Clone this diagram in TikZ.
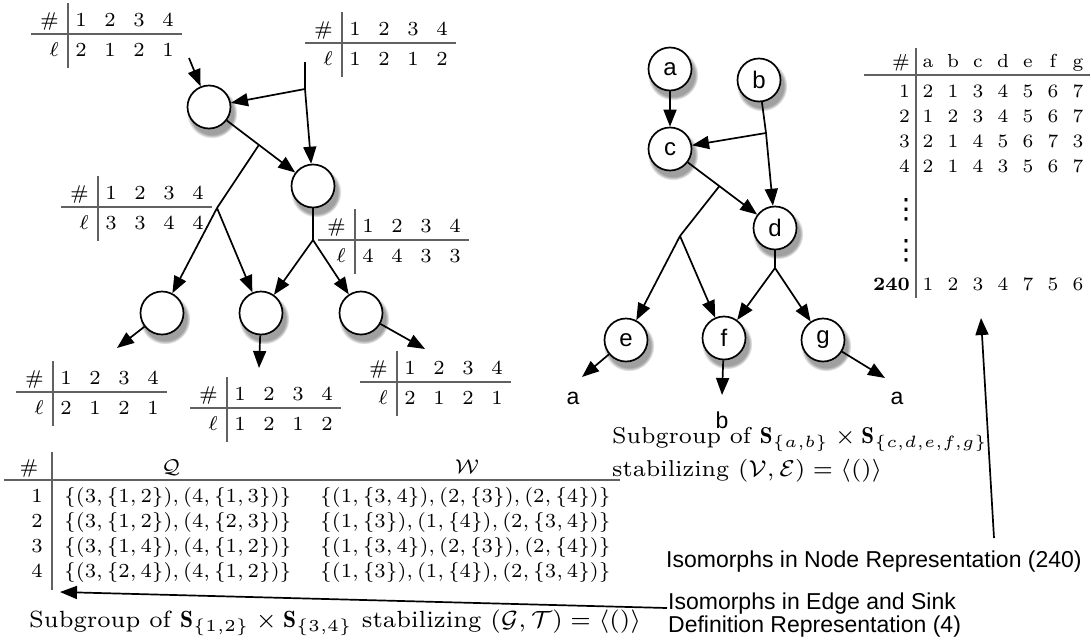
\RequirePackage{fix-cm}
\documentclass[tikz,border=0pt]{standalone}
\usepackage{amsmath,amssymb}
\usepackage{fontspec}
\newfontfamily\hv{Liberation Sans}
\newfontfamily\dv{DejaVu Sans}
\usetikzlibrary{arrows.meta,shadows,calc}
% small design size, scaled up (as in the reference)
\newcommand{\sz}[2]{\scalebox{#1}{\fontsize{7}{8.5}\selectfont #2}}
\newcommand{\tc}[1]{\sz{2.85}{#1}}
\newcommand{\rc}[1]{\sz{2.7}{#1}}
\newcommand{\qc}[1]{\sz{2.85}{#1}}
\newcommand{\cc}[1]{\sz{3.35}{#1}}
\newcommand{\ccr}[1]{\sz{3.28}{#1}}
\tikzset{
 vtx/.style={circle,draw=black,line width=1.7pt,fill=white,minimum size=43pt,inner sep=0pt,
   circular drop shadow={shadow xshift=2.5pt,shadow yshift=-5pt,shadow scale=1.18,opacity=0.75},
   font=\hv\fontsize{24}{28}\selectfont},
 con/.style={line width=1.7pt},
 arr/.style={con,-{Triangle[length=17pt,width=13pt]}},
 tabline/.style={line width=1.2pt,draw=black!62},
 cell/.style={inner sep=0pt},
 vdt/.style={inner sep=0pt,font=\dv\fontsize{28}{30}\selectfont},
 lbl/.style={inner sep=0pt,font=\hv\fontsize{23}{26}\selectfont},
}
\newcommand{\ltab}[7]{%
\begin{scope}[shift={(#2,#3)}]
\draw[tabline] (-37,0) -- (114,0);
\draw[tabline] (0,-31) -- (0,34);
\node[cell,anchor=base east] (#1h) at (-9,-8) {\tc{$\#$}};
\node[cell,anchor=base east] (#1l) at (-9,22) {\tc{$\ell$}};
\node[cell,anchor=base] (#1t1) at (13,-8) {\tc{1}};
\node[cell,anchor=base] (#1t2) at (42,-8) {\tc{2}};
\node[cell,anchor=base] (#1t3) at (71,-8) {\tc{3}};
\node[cell,anchor=base] (#1t4) at (100,-8) {\tc{4}};
\node[cell,anchor=base] (#1b1) at (13,22) {\tc{#4}};
\node[cell,anchor=base] (#1b2) at (42,22) {\tc{#5}};
\node[cell,anchor=base] (#1b3) at (71,22) {\tc{#6}};
\node[cell,anchor=base] (#1b4) at (100,22) {\tc{#7}};
\end{scope}}
\begin{document}
\begin{tikzpicture}[x=1pt,y=-1pt]
\useasboundingbox (0,0) rectangle (1091,643);
% ---------- left graph ----------
\node[vtx] (N1) at (209,107) {};
\node[vtx] (N2) at (313,186) {};
\node[vtx] (N3) at (162,313) {};
\node[vtx] (N4) at (261,313) {};
\node[vtx] (N5) at (361,313) {};
\coordinate (s1) at (189,58);
\coordinate (j1) at (305,62);
\coordinate (j2) at (305,89);
\coordinate (b1) at ($(N1)!0.48!(N2)$);
\coordinate (j3) at (217,208);
\coordinate (j4) at (313,240);
\coordinate (o3) at (117,348);
\coordinate (o4) at (259,368);
\coordinate (o5) at (425,349);
\draw[arr] (s1) -- (N1);
\draw[con] (j1) -- (j2);
\draw[arr] (j2) -- (N1);
\draw[arr] (j2) -- (N2);
\draw[arr] (N1) -- (N2);
\draw[con] (b1) -- (j3);
\draw[arr] (j3) -- (N3);
\draw[arr] (j3) -- (N4);
\draw[con] (N2) -- (j4);
\draw[arr] (j4) -- (N4);
\draw[arr] (j4) -- (N5);
\draw[arr] (N3) -- (o3);
\draw[arr] (N4) -- (o4);
\draw[arr] (N5) -- (o5);
\ltab{T1}{68}{34}{2}{1}{2}{1}
\ltab{T2}{342}{43}{1}{2}{1}{2}
\ltab{T3}{98}{207}{3}{3}{4}{4}
\ltab{T4}{355}{240}{4}{4}{3}{3}
\ltab{T5}{53}{392}{2}{1}{2}{1}
\ltab{T6}{227}{408}{1}{2}{1}{2}
\ltab{T7}{397}{382}{2}{1}{2}{1}
% ---------- right graph ----------
\node[vtx] (a) at (670,69) {a};
\node[vtx] (b) at (759,80) {b};
\node[vtx] (c) at (670,149) {c};
\node[vtx] (d) at (775,228) {d};
\node[vtx] (e) at (626,340) {e};
\node[vtx] (f) at (724,338) {f};
\node[vtx] (g) at (823,340) {g};
\coordinate (jb) at (766,133);
\coordinate (bc) at ($(c)!0.47!(d)$);
\coordinate (je) at (680,236);
\coordinate (jd) at (775,268);
\coordinate (oe) at (582,377);
\coordinate (of) at (722,395);
\coordinate (og) at (885,378);
\draw[arr] (a) -- (c);
\draw[con] (b) -- (jb);
\draw[arr] (jb) -- (c);
\draw[arr] (jb) -- (d);
\draw[arr] (c) -- (d);
\draw[con] (bc) -- (je);
\draw[arr] (je) -- (e);
\draw[arr] (je) -- (f);
\draw[con] (d) -- (jd);
\draw[arr] (jd) -- (f);
\draw[arr] (jd) -- (g);
\draw[arr] (e) -- (oe);
\draw[arr] (f) -- (of);
\draw[arr] (g) -- (og);
\node[lbl] (la1) at (573,398) {a};
\node[lbl] (lb) at (722,420) {b};
\node[lbl] (la2) at (897,398) {a};
% ---------- right table ----------
\draw[tabline] (864,75) -- (1090,75);
\draw[tabline] (916,48) -- (916,298);
\node[cell,anchor=base east] (Rh) at (910,67) {\rc{$\#$}};
\foreach \l [count=\i] in {a,b,c,d,e,f,g}
  \node[cell,anchor=base] (Rc\i) at ({903+25*\i},67) {\rc{\l}};
\foreach \r/\yy/\vals in {1/97/{2,1,3,4,5,6,7},2/122/{1,2,3,4,5,6,7},3/147/{2,1,4,5,6,7,3},4/172/{2,1,4,3,5,6,7}}{
  \node[cell,anchor=base east] (Rn\r) at (910,\yy) {\rc{\r}};
  \foreach \v [count=\i] in \vals
    \node[cell,anchor=base] (R\r-\i) at ({903+25*\i},\yy) {\rc{\v}};
}
\node[vdt] (Rv1) at (906,210) {⋮};
\node[vdt] (Rv2) at (906,251) {⋮};
\node[cell,anchor=base east] (Rn240) at (910,290) {\rc{\textbf{240}}};
\foreach \v [count=\i] in {1,2,3,4,7,5,6}
  \node[cell,anchor=base] (R240-\i) at ({903+25*\i},290) {\rc{\v}};
% ---------- Q/W table ----------
\draw[tabline] (4,480) -- (620,480);
\draw[tabline] (52,452) -- (52,590);
\node[cell,anchor=base] (Qh0) at (29,473) {\qc{$\#$}};
\node[cell,anchor=base] (Qh1) at (171,473) {\qc{$\mathcal{Q}$}};
\node[cell,anchor=base] (Qh2) at (467,473) {\qc{$\mathcal{W}$}};
\node[cell,anchor=base] (Qn1) at (37,502) {\qc{1}};
\node[cell,anchor=base west] (Qq1) at (64,502) {\qc{$\{(3,\{1,2\}),(4,\{1,3\})\}$}};
\node[cell,anchor=base west] (Qw1) at (320,502) {\qc{$\{(1,\{3,4\}),(2,\{3\}),(2,\{4\})\}$}};
\node[cell,anchor=base] (Qn2) at (37,527) {\qc{2}};
\node[cell,anchor=base west] (Qq2) at (64,527) {\qc{$\{(3,\{1,2\}),(4,\{2,3\})\}$}};
\node[cell,anchor=base west] (Qw2) at (320,527) {\qc{$\{(1,\{3\}),(1,\{4\}),(2,\{3,4\})\}$}};
\node[cell,anchor=base] (Qn3) at (37,552) {\qc{3}};
\node[cell,anchor=base west] (Qq3) at (64,552) {\qc{$\{(3,\{1,4\}),(4,\{1,2\})\}$}};
\node[cell,anchor=base west] (Qw3) at (320,552) {\qc{$\{(1,\{3,4\}),(2,\{3\}),(2,\{4\})\}$}};
\node[cell,anchor=base] (Qn4) at (37,577) {\qc{4}};
\node[cell,anchor=base west] (Qq4) at (64,577) {\qc{$\{(3,\{2,4\}),(4,\{1,2\})\}$}};
\node[cell,anchor=base west] (Qw4) at (320,577) {\qc{$\{(1,\{3\}),(1,\{4\}),(2,\{3,4\})\}$}};
% ---------- captions ----------
\node[cell,anchor=base west] (capL) at (29,627) {\cc{Subgroup of $\mathbf{S}_{\{1,2\}}\times\mathbf{S}_{\{3,4\}}$ stabilizing $(\mathcal{G},\mathcal{T})=\langle()\rangle$}};
\node[cell,anchor=base west] (capR1) at (612,443) {\ccr{Subgroup of $\mathbf{S}_{\{a,b\}}\times\mathbf{S}_{\{c,d,e,f,g\}}$}};
\node[cell,anchor=base west] (capR2) at (612,476) {\ccr{stabilizing $(\mathcal{V},\mathcal{E})=\langle()\rangle$}};
% ---------- annotation labels ----------
\node[lbl,anchor=base west] (isoN) at (666,567) {Isomorphs in Node Representation (240)};
\node[lbl,anchor=base west] (isoE1) at (668,609) {Isomorphs in Edge and Sink};
\node[lbl,anchor=base west] (isoE2) at (668,632) {Definition Representation (4)};
\coordinate (stN) at (994,538);
\coordinate (tipN) at (981,318);
\draw[arr] (stN) -- (tipN);
\coordinate (stE) at ($(isoE1.base west)+(-1,-1)$);
\coordinate (tipE) at (60,592);
\draw[arr] (stE) -- (tipE);
\end{tikzpicture}
\end{document}
